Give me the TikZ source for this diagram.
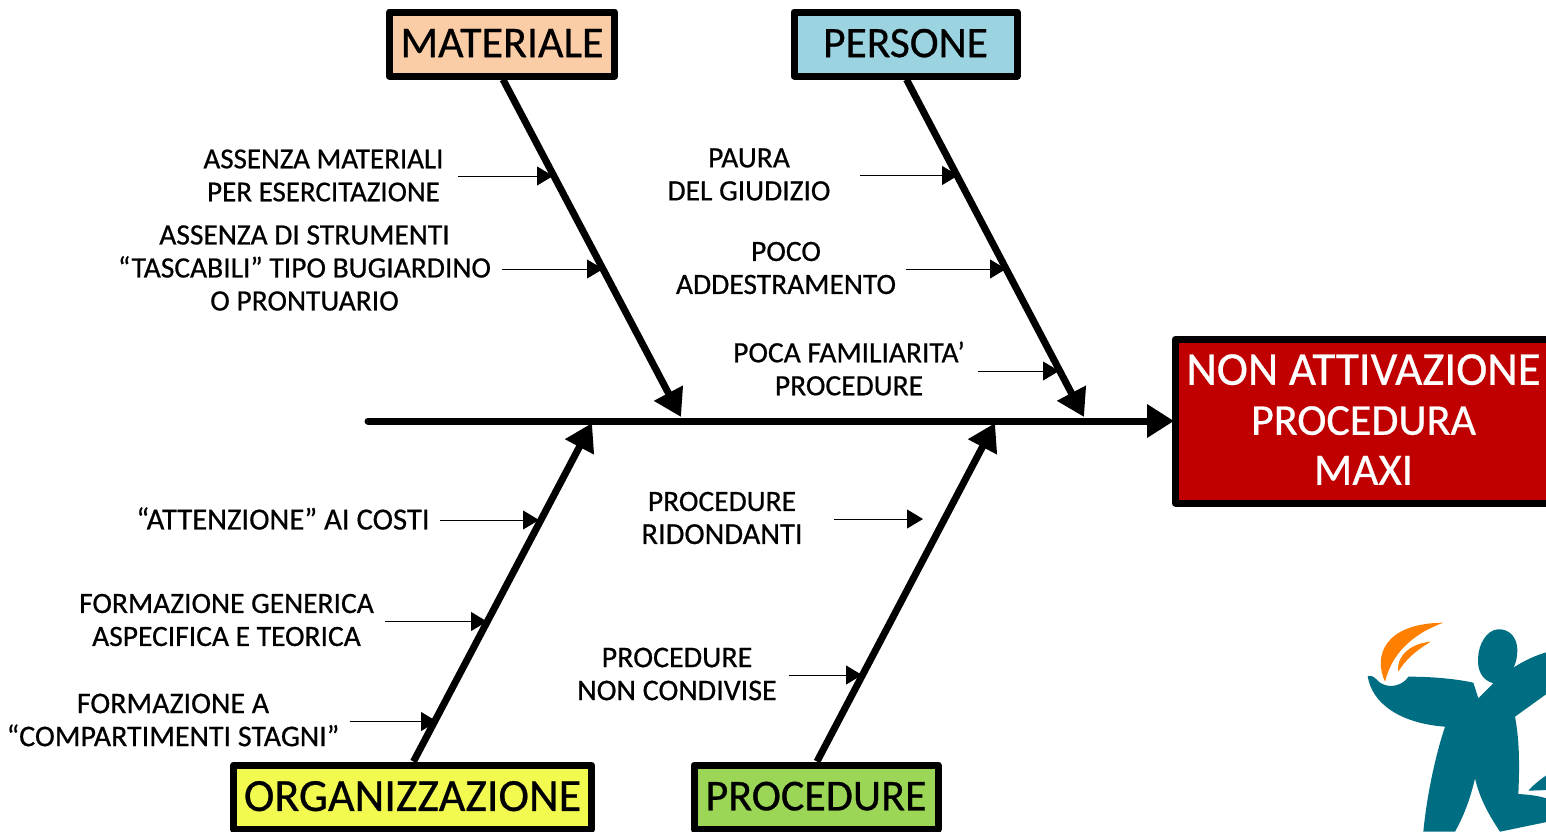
\documentclass[tikz,border=0pt]{standalone}
\usepackage{fontspec}
\setmainfont{Carlito}[RawFeature={embolden=0.6}]
\usetikzlibrary{arrows.meta}
\definecolor{peach}{HTML}{FBCDA6}
\definecolor{skyb}{HTML}{9BD3E0}
\definecolor{yell}{HTML}{F2FA50}
\definecolor{gren}{HTML}{9BD656}
\definecolor{redb}{HTML}{C00000}
\definecolor{teal}{HTML}{006E82}
\definecolor{oran}{HTML}{FF8000}
\newcommand{\fsz}[1]{\fontsize{#1}{50}\selectfont}
\newcommand{\upby}[2]{\raisebox{0pt}[\height][#1]{#2}}
\tikzset{
  catbox/.style={draw=black,line width=7pt,line join=round,inner sep=0pt,minimum height=64pt},
  causetext/.style={align=center,inner ysep=0pt,inner xsep=0pt,outer sep=0pt,font=\fontsize{29.5}{33}\selectfont},
  bone/.style={line width=7pt,-{Triangle[length=27pt,width=31pt]}},
  twig/.style={line width=1pt,-{Triangle[length=16pt,width=19pt]}},
}
\begin{document}
\begin{tikzpicture}[x=1pt,y=-1pt]
\useasboundingbox (0,0) rectangle (1546,831);
\clip (0,0) rectangle (1546,831);
% boxes
\node[catbox,fill=peach,minimum width=225.5pt,font=\fsz{44}] (mat) at (502,44) {\upby{2pt}{MATERIALE}};
\node[catbox,fill=skyb,minimum width=223pt,font=\fsz{43.5}] (per) at (905.5,44) {\upby{2pt}{PERSONE}};
\node[catbox,fill=yell,minimum width=358pt,font=\fsz{46}] (org) at (412.5,797) {\upby{2pt}{ORGANIZZAZIONE}};
\node[catbox,fill=gren,minimum width=244pt,font=\fsz{44}] (pro) at (816,797) {\upby{2pt}{PROCEDURE}};
\node[draw=black,line width=7pt,line join=round,fill=redb,text=white,minimum width=376pt,minimum height=164pt,inner sep=0pt,align=center,font=\fsz{46}] (eff) at (1363.5,421) {{\fsz{47}NON ATTIVAZIONE}\\{\fsz{44}PROCEDURA}\\\upby{3pt}{\fsz{45}MAXI}};
% spine
\coordinate (tail) at (368,421);
\draw[line width=7pt,line cap=round,shorten >=-2pt,-{Triangle[length=27pt,width=32pt]}] (tail) -- (eff.west);
% bones
\coordinate (jm) at (681,417);
\coordinate (jp) at (1084,417);
\coordinate (jo) at (592,423);
\coordinate (jr) at (995,423);
\draw[bone] ([xshift=1pt]mat.south) -- (jm);
\draw[bone] ([xshift=1pt]per.south) -- (jp);
\draw[bone] ([xshift=1pt]org.north) -- (jo);
\draw[bone] ([xshift=1pt]pro.north) -- (jr);
% cause labels
\node[causetext,font=\fontsize{29}{33}\selectfont] (c1) at (323.5,175.5) {ASSENZA MATERIALI\\PER ESERCITAZIONE};
\node[causetext] (c2) at (304.5,268) {ASSENZA DI STRUMENTI\\“TASCABILI” TIPO BUGIARDINO\\O PRONTUARIO};
\node[causetext] (c3) at (749,174.5) {PAURA\\DEL GIUDIZIO};
\node[causetext] (c4) at (786,268) {POCO\\ADDESTRAMENTO};
\node[causetext] (c5) at (849,368.5) {POCA FAMILIARITA’\\PROCEDURE};
\node[causetext,font=\fontsize{30.7}{33}\selectfont] (c6) at (283,518.5) {“ATTENZIONE” AI COSTI};
\node[causetext] (c7) at (226.5,620) {FORMAZIONE GENERICA\\ASPECIFICA E TEORICA};
\node[causetext,font=\fontsize{30}{33}\selectfont] (c8) at (173,720) {FORMAZIONE A\\“COMPARTIMENTI STAGNI”};
\node[causetext] (c9) at (722,518) {PROCEDURE\\{\fontsize{30.5}{33}\selectfont RIDONDANTI}};
\node[causetext,font=\fontsize{30}{33}\selectfont] (c10) at (677,674) {PROCEDURE\\NON CONDIVISE};
% twig ends
\coordinate (t1) at (553,176);
\coordinate (t2) at (603,269);
\coordinate (t3) at (958,175.5);
\coordinate (t4) at (1006,269);
\coordinate (t5) at (1059,371);
\coordinate (t6) at (539,520);
\coordinate (t7) at (487,621.5);
\coordinate (t8) at (437,721.5);
\coordinate (t9) at (923,519);
\coordinate (t10) at (862,675);
\draw[twig] (t1-|c1.east) ++(14,0) -- (t1);
\draw[twig] (t2-|c2.east) ++(10.5,0) -- (t2);
\draw[twig] (t3-|c3.east) ++(30,0) -- (t3);
\draw[twig] (t4-|c4.east) ++(10,0) -- (t4);
\draw[twig] (t5-|c5.east) ++(13,0) -- (t5);
\draw[twig] (t6-|c6.east) ++(10,0) -- (t6);
\draw[twig] (t7-|c7.east) ++(11,0) -- (t7);
\draw[twig] (t8-|c8.east) ++(11,0) -- (t8);
\draw[twig] (t9-|c9.east) ++(31,0) -- (t9);
\draw[twig] (t10-|c10.east) ++(12,0) -- (t10);
% logo
\begin{scope}[shift={(1340,600)},scale=0.33333]
\fill[oran] (135,245) .. controls (100,170) and (130,70) .. (310,68) .. controls (210,105) and (155,165) .. (135,245) -- cycle;
\fill[oran] (175,215) .. controls (168,165) and (215,130) .. (272,125) .. controls (230,150) and (195,180) .. (175,215) -- cycle;
\fill[teal] (472,88) .. controls (510,85) and (532,115) .. (532,150) .. controls (532,170) and (528,190) .. (520,203) .. controls (555,180) and (590,165) .. (625,155) -- (625,278) -- (525,350) .. controls (540,430) and (538,510) .. (535,582) .. controls (570,584) and (600,588) .. (625,597) -- (625,665) -- (480,695) .. controls (450,650) and (420,600) .. (405,535) .. controls (390,600) and (370,650) .. (345,695) -- (250,695) .. controls (260,590) and (285,470) .. (315,380) .. controls (180,370) and (95,310) .. (83,228) .. controls (100,225) and (105,235) .. (120,248) .. controls (150,268) and (190,255) .. (205,230) .. controls (270,230) and (340,235) .. (400,248) -- (415,295) -- (460,250) .. controls (425,240) and (412,210) .. (414,175) .. controls (416,130) and (440,92) .. (472,88) -- cycle;
\fill[teal] (565,572) .. controls (585,550) and (605,535) .. (625,522) -- (625,570) -- cycle;
\end{scope}
\end{tikzpicture}
\end{document}
